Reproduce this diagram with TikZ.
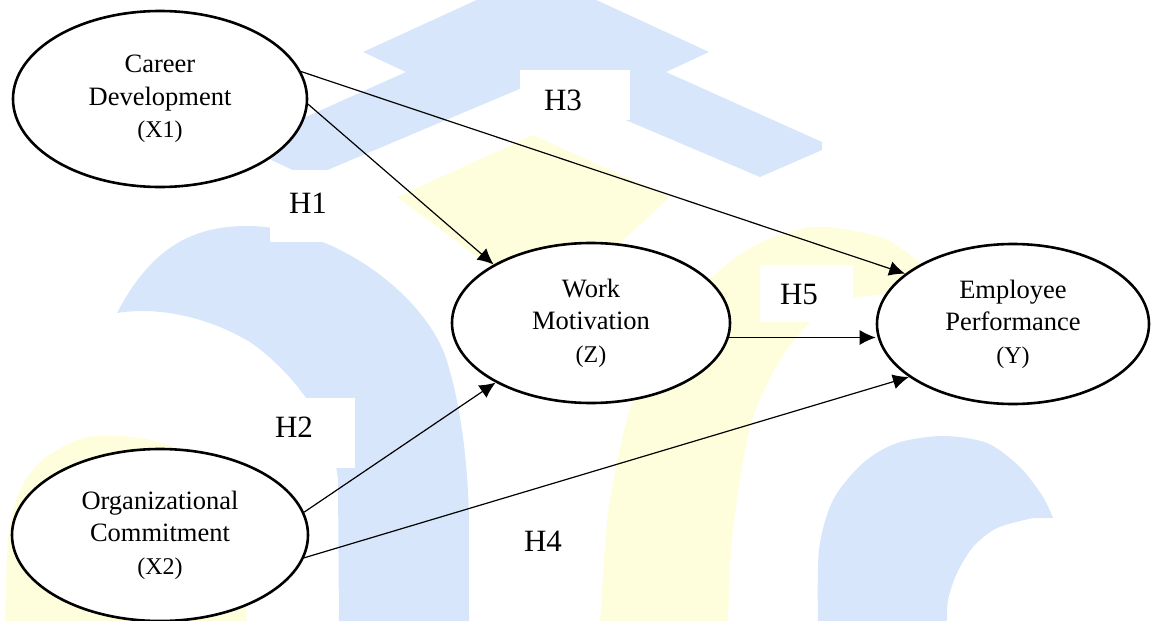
\documentclass[tikz,border=0pt]{standalone}
\usepackage{fontspec}
\setmainfont{Liberation Serif}
\usetikzlibrary{arrows.meta,shapes.geometric,calc}
\definecolor{wmblue}{RGB}{215,230,250}
\definecolor{wmyellow}{RGB}{255,254,220}
\newcommand{\subl}[1]{{\fontsize{24}{32.5}\selectfont #1}}
\begin{document}
\begin{tikzpicture}[x=1pt,y=-1pt,
  var/.style={ellipse, draw, line width=2.6pt, fill=white, inner sep=0pt,
    align=center, font=\fontsize{26.5}{32.5}\selectfont},
  hyp/.style={font=\fontsize{31}{36}\selectfont, inner sep=0pt},
  labbox/.style={fill=white},
  link/.style={line width=1.2pt, -{Latex[length=16pt,width=15pt]}},
]
\useasboundingbox (0,0) rectangle (1152,621);
% watermark
\begin{scope}
\clip (0,0) rectangle (1152,621);
\fill[wmblue] (481,-2) -- (592,-2) -- (709,52) -- (666,72) -- (822,142) -- (822,150)
  -- (760,177) -- (536,82) -- (318,174) -- (297,172) -- (250,150) -- (250,142) -- (406,72)
  -- (363,52) -- cycle;
\fill[wmyellow] (397,197) -- (533,135) -- (670,197) -- (548,310) -- cycle;
\fill[wmblue] (117,313) .. controls (150,250) and (190,226) .. (247,226)
  .. controls (330,226) and (420,290) .. (445,355)
  .. controls (460,400) and (468,460) .. (469,520) -- (469,625)
  -- (339,625) -- (338,480)
  .. controls (332,420) and (290,370) .. (250,342)
  .. controls (210,318) and (160,306) .. (117,313) -- cycle;
\fill[wmblue] plot[smooth] coordinates {(818,625) (819,550) (833,500) (863,463)
  (897,443) (943,436) (987,443) (1020,467) (1043,497) (1053,518)}
  -- (1033,518) -- plot[smooth] coordinates {(1033,518) (997,528) (973,547)
  (957,573) (948,600) (947,625)} -- cycle;
\fill[wmyellow] plot[smooth] coordinates {(600,625) (604,560) (610,500) (633,400)
  (680,310) (747,250) (813,227) (880,237) (913,257) (945,285)}
  -- (905,292) -- plot[smooth] coordinates {(857,297) (813,320) (780,360)
  (753,417) (740,480) (731,550) (728,625)} -- cycle;
\fill[wmyellow] plot[smooth] coordinates {(5,625) (8,540) (18,495) (40,462)
  (83,438) (133,437) (175,448) (210,475) (232,520) (243,570) (247,625)} -- cycle;
\end{scope}
% label boxes
\fill[labbox] (520,70) rectangle (630,120);
\fill[labbox] (270,170) rectangle (352,242);
\fill[labbox] (255,398) rectangle (355,468);
\fill[labbox] (760,265) rectangle (853,322);
% variables
\node[var, minimum width=294pt, minimum height=176pt] (X1) at (160,99)
  {Career\\Development\\\subl{(X1)}};
\node[var, minimum width=296pt, minimum height=172pt] (X2) at (160,535)
  {Organizational\\Commitment\\\subl{(X2)}};
\node[var, minimum width=278pt, minimum height=160pt] (Z) at (591,323)
  {Work\\Motivation\\\subl{(Z)}};
\node[var, minimum width=272pt, minimum height=160pt] (Y) at (1013,324)
  {Employee\\Performance\\\subl{(Y)}};
% hypotheses
\node[hyp] (H1) at (308,203) {H1};
\node[hyp] (H2) at (294,427) {H2};
\node[hyp] (H3) at (563,100) {H3};
\node[hyp] (H4) at (543,541) {H4};
\node[hyp] (H5) at (799,294) {H5};
% links
\draw[link] (X1.-2) -- (Z.149);
\draw[link] (X1.11) -- (Y.155);
\draw[link] (X2.9) -- (Z.212);
\draw[link] (X2.-9) -- (Y.207);
\draw[link] (Z.-6) -- (Z.-6 -| Y.west);
\end{tikzpicture}
\end{document}
